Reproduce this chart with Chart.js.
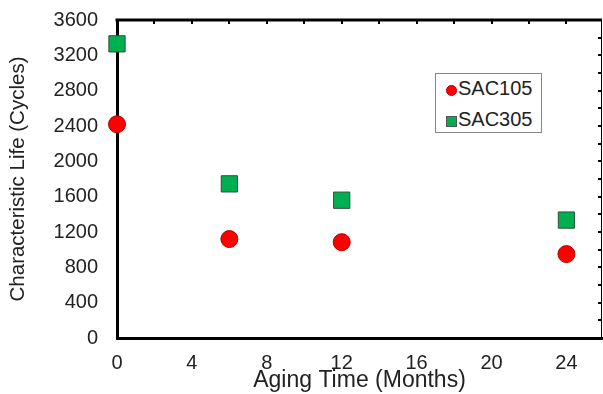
<!DOCTYPE html>
<html lang="en">
<head>
    <meta charset="UTF-8">
    <title>Characteristic Life vs Aging Time</title>
    <script src="https://cdn.jsdelivr.net/npm/chart.js"></script>
    <style>
        body {
            margin: 0;
            padding: 0;
            background-color: #fff;
            font-family: Arial, "Liberation Sans", sans-serif;
        }

        .chart-container {
            position: relative;
            width: 603px;
            height: 394px;
        }

        .legend-box {
            position: absolute;
            left: 435px;
            top: 73px;
            width: 105px;
            height: 58px;
            border: 1.5px solid #888;
            background: #fff;
            color: #222;
            font-size: 20px;
        }

        .legend-row {
            position: absolute;
            left: 10px;
            height: 24px;
            line-height: 24px;
            white-space: nowrap;
        }

        .legend-row .mark {
            display: inline-block;
            width: 11px;
            height: 11px;
            margin-right: 1px;
            box-sizing: border-box;
            border: 1px solid #555;
            vertical-align: -1px;
        }
    </style>
</head>
<body>
    <div class="chart-container">
        <canvas id="lifeChart"></canvas>
        <div class="legend-box">
            <div class="legend-row" style="top: 2px;"><span class="mark" style="background:#ff0000;border-radius:50%;border-color:#c00000;"></span>SAC105</div>
            <div class="legend-row" style="top: 33px;"><span class="mark" style="background:#00b050;"></span>SAC305</div>
        </div>
    </div>

    <script>
        // Aging time (months) and characteristic life (cycles)
        const months = [0, 6, 12, 24];
        const sac105 = [2420, 1120, 1085, 950];
        const sac305 = [3330, 1745, 1560, 1335];

        const seriesNames = ['SAC105', 'SAC305'];
        const xTicks = [0, 4, 8, 12, 16, 20, 24];
        const yTicks = [0, 400, 800, 1200, 1600, 2000, 2400, 2800, 3200, 3600];

        const FONT = 'Arial, "Liberation Sans", sans-serif';

        // top and right frame lines with small inward ticks
        const frame = {
            id: 'frame',
            beforeDatasetsDraw(chart) {
                const { ctx, chartArea, scales } = chart;
                const { left, right, top, bottom } = chartArea;
                ctx.save();
                ctx.strokeStyle = '#000';

                ctx.lineWidth = 3;
                ctx.beginPath();
                ctx.moveTo(left - 1.5, top);
                ctx.lineTo(right, top);
                ctx.stroke();

                ctx.lineWidth = 2;
                for (let m = 2; m < scales.x.max; m += 2) {
                    const px = Math.round(scales.x.getPixelForValue(m));
                    ctx.beginPath();
                    ctx.moveTo(px, top);
                    ctx.lineTo(px, top + 4);
                    ctx.stroke();
                }

                ctx.lineWidth = 1;
                ctx.beginPath();
                ctx.moveTo(right - 0.5, top);
                ctx.lineTo(right - 0.5, bottom);
                ctx.stroke();

                ctx.lineWidth = 2;
                for (let v = 200; v < scales.y.max; v += 200) {
                    const py = Math.round(scales.y.getPixelForValue(v));
                    ctx.beginPath();
                    ctx.moveTo(right, py);
                    ctx.lineTo(right - 4, py);
                    ctx.stroke();
                }
                ctx.restore();
            }
        };

        const ctx = document.getElementById('lifeChart').getContext('2d');
        const chart = new Chart(ctx, {
            type: 'scatter',
            data: {
                datasets: [
                    {
                        label: seriesNames[0],
                        data: months.map((m, i) => ({ x: m, y: sac105[i] })),
                        pointStyle: 'circle',
                        pointRadius: 8.5,
                        pointHoverRadius: 8.5,
                        backgroundColor: '#ff0000',
                        borderColor: '#b00000',
                        borderWidth: 1,
                        clip: false
                    },
                    {
                        label: seriesNames[1],
                        data: months.map((m, i) => ({ x: m, y: sac305[i] })),
                        pointStyle: 'rect',
                        pointRadius: 11.5,
                        pointHoverRadius: 11.5,
                        backgroundColor: '#00b050',
                        borderColor: '#2f4f3a',
                        borderWidth: 1,
                        clip: false
                    }
                ]
            },
            options: {
                responsive: true,
                maintainAspectRatio: false,
                animation: false,
                layout: {
                    autoPadding: false,
                    padding: { left: 0, top: 20, right: 1, bottom: 0 }
                },
                plugins: {
                    legend: { display: false },
                    tooltip: { enabled: false }
                },
                scales: {
                    x: {
                        type: 'linear',
                        min: 0,
                        max: 25.9,
                        afterBuildTicks: s => { s.ticks = xTicks.map(v => ({ value: v })); },
                        afterFit: s => {
                            s.height = 56;
                            s.paddingLeft = 0;
                            s.paddingRight = 0;
                        },
                        grid: { display: false, drawTicks: false },
                        border: { display: true, color: '#000', width: 3 },
                        ticks: {
                            color: '#222',
                            padding: 13,
                            maxRotation: 0,
                            callback: v => String(v),
                            font: { family: FONT, size: 20 }
                        },
                        title: {
                            display: true,
                            text: 'Aging Time (Months)',
                            color: '#222',
                            padding: { top: 0, bottom: 0 },
                            font: { family: FONT, size: 23 }
                        }
                    },
                    y: {
                        type: 'linear',
                        min: 0,
                        max: 3600,
                        afterBuildTicks: s => { s.ticks = yTicks.map(v => ({ value: v })); },
                        afterFit: s => {
                            s.width = 117;
                            s.paddingTop = 0;
                            s.paddingBottom = 0;
                        },
                        grid: { display: false, drawTicks: false },
                        border: { display: true, color: '#000', width: 3 },
                        ticks: {
                            color: '#222',
                            padding: 19,
                            callback: v => String(v),
                            font: { family: FONT, size: 20 }
                        },
                        title: {
                            display: true,
                            text: 'Characteristic Life (Cycles)',
                            color: '#222',
                            padding: { top: 6, bottom: 0 },
                            font: { family: FONT, size: 20.5 }
                        }
                    }
                }
            },
            plugins: [frame]
        });
    </script>
</body>
</html>
